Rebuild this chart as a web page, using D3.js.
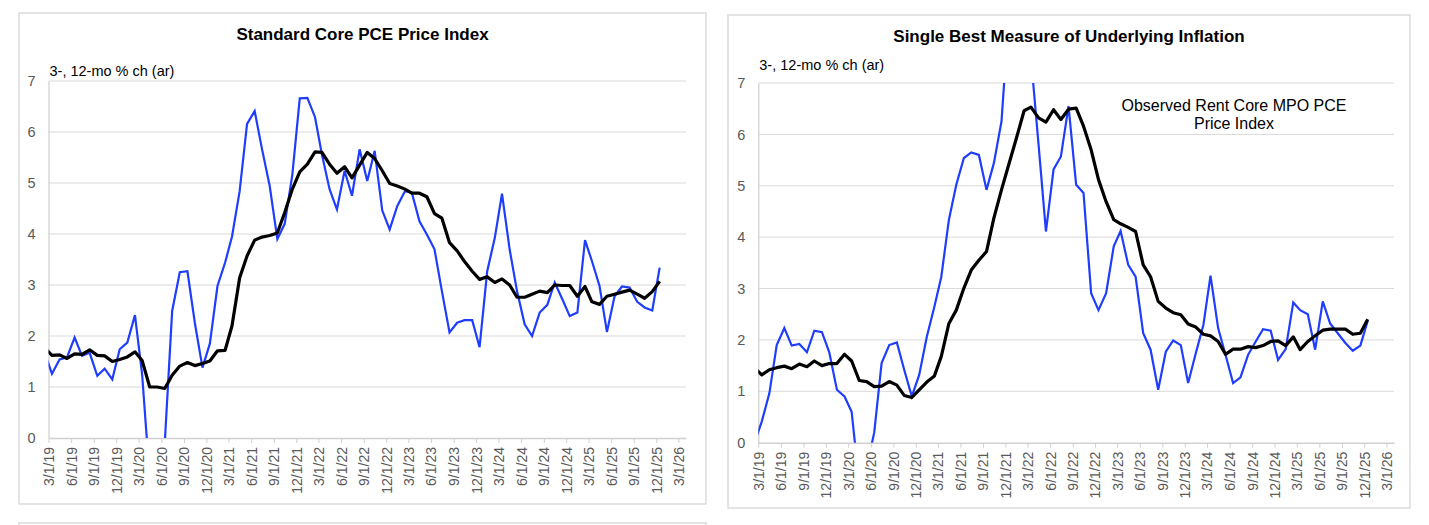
<!DOCTYPE html>
<html>
  <head>
    <meta charset="utf-8">
    <title>core pce charts</title>
    <style>
      body { margin: 0; background: #fff; }
      text { font-family: "Liberation Sans", Arial, sans-serif; }
    </style>
  </head>
  <body>
    <div class="charts"></div>
    <script src="https://d3js.org/d3.v7.min.js"></script>
    <script>
        // monthly observations, Feb 2019 .. Dec 2025 (Feb 2019 sits left of the axis and is clipped)
        var firstMonth = "2019-02", lastMonth = "2025-12";

        // Standard Core PCE Price Index
        var core3 = [1.65, 1.26, 1.54, 1.58, 1.97, 1.61, 1.67, 1.22, 1.36, 1.15, 1.74, 1.87,
            2.41, 1.25, -0.8, -1.2, -0.1, 2.49, 3.25, 3.27, 2.26, 1.38, 1.85, 2.98,
            3.44, 3.95, 4.84, 6.16, 6.41, 5.66, 4.94, 3.90, 4.20, 5.17, 6.66, 6.67,
            6.29, 5.56, 4.88, 4.48, 5.24, 4.75, 5.66, 5.04, 5.63, 4.46, 4.09, 4.55,
            4.84, 4.81, 4.25, 3.99, 3.70, 2.88, 2.07, 2.26, 2.31, 2.31, 1.78, 3.27,
            3.93, 4.79, 3.70, 2.88, 2.23, 2.00, 2.46, 2.61, 3.05, 2.72, 2.39, 2.46,
            3.88, 3.47, 2.98, 2.08, 2.78, 2.97, 2.95, 2.67, 2.56, 2.50, 3.34];
        var core12 = [1.76, 1.62, 1.63, 1.56, 1.65, 1.64, 1.73, 1.62, 1.61, 1.50, 1.54, 1.59,
            1.69, 1.52, 1.00, 1.00, 0.97, 1.23, 1.41, 1.48, 1.42, 1.46, 1.51, 1.71,
            1.72, 2.20, 3.14, 3.57, 3.88, 3.94, 3.97, 4.02, 4.42, 4.88, 5.22, 5.37,
            5.61, 5.60, 5.37, 5.19, 5.32, 5.10, 5.35, 5.60, 5.48, 5.24, 4.99, 4.94,
            4.88, 4.80, 4.80, 4.73, 4.40, 4.31, 3.83, 3.67, 3.46, 3.27, 3.11, 3.16,
            3.05, 3.12, 3.00, 2.76, 2.76, 2.82, 2.88, 2.85, 3.00, 2.99, 2.99, 2.78,
            2.97, 2.67, 2.62, 2.78, 2.82, 2.86, 2.90, 2.82, 2.74, 2.87, 3.07];

        // Observed Rent Core MPO PCE Price Index
        var rent3 = [0.02, 0.41, 0.96, 1.90, 2.23, 1.89, 1.92, 1.76, 2.18, 2.15, 1.76, 1.03,
            0.90, 0.60, -0.8, -0.5, 0.20, 1.55, 1.90, 1.95, 1.42, 0.90, 1.32, 2.06,
            2.65, 3.23, 4.34, 5.02, 5.54, 5.65, 5.60, 4.92, 5.44, 6.25, 8.33, 9.00,
            8.50, 7.50, 5.80, 4.11, 5.32, 5.57, 6.55, 5.02, 4.86, 2.91, 2.58, 2.91,
            3.82, 4.12, 3.46, 3.23, 2.13, 1.81, 1.03, 1.77, 1.99, 1.90, 1.16, 1.74,
            2.29, 3.25, 2.23, 1.71, 1.16, 1.27, 1.71, 1.97, 2.21, 2.18, 1.61, 1.82,
            2.73, 2.58, 2.50, 1.81, 2.75, 2.32, 2.13, 1.94, 1.79, 1.89, 2.37];
        var rent12 = [1.45, 1.32, 1.42, 1.46, 1.49, 1.44, 1.53, 1.48, 1.59, 1.50, 1.54, 1.54,
            1.72, 1.59, 1.21, 1.19, 1.09, 1.10, 1.19, 1.12, 0.92, 0.88, 1.03, 1.18,
            1.30, 1.68, 2.32, 2.58, 3.01, 3.36, 3.55, 3.72, 4.37, 4.92, 5.42, 5.93,
            6.46, 6.53, 6.32, 6.24, 6.48, 6.29, 6.49, 6.51, 6.16, 5.70, 5.12, 4.69,
            4.34, 4.26, 4.19, 4.11, 3.46, 3.23, 2.75, 2.62, 2.53, 2.49, 2.31, 2.25,
            2.11, 2.08, 1.97, 1.72, 1.82, 1.82, 1.87, 1.85, 1.89, 1.97, 1.98, 1.89,
            2.06, 1.81, 1.97, 2.08, 2.19, 2.21, 2.21, 2.21, 2.11, 2.13, 2.40];

        var yTicks = [0, 1, 2, 3, 4, 5, 6, 7];
        var xTickLabels = ["3/1/19", "6/1/19", "9/1/19", "12/1/19", "3/1/20", "6/1/20", "9/1/20", "12/1/20",
            "3/1/21", "6/1/21", "9/1/21", "12/1/21", "3/1/22", "6/1/22", "9/1/22", "12/1/22",
            "3/1/23", "6/1/23", "9/1/23", "12/1/23", "3/1/24", "6/1/24", "9/1/24", "12/1/24",
            "3/1/25", "6/1/25", "9/1/25", "12/1/25", "3/1/26"];
        var axisStart = "3/1/19", axisEnd = "4/1/26";

        var parseTick = d3.timeParse("%m/%d/%y");
        var parseMonth = d3.timeParse("%Y-%m");
        var months = d3.timeMonth.range(parseMonth(firstMonth), d3.timeMonth.offset(parseMonth(lastMonth), 1));
        // points are plotted mid-month
        var pointDates = months.map(function(m) { return d3.timeDay.offset(m, 14); });

        var w = 1429, h = 525;
        var svg = d3.select(".charts").append("svg")
            .attr("width", w)
            .attr("height", h);

        var panels = [
            { id: "core", title: "Standard Core PCE Price Index", s3: core3, s12: core12,
              frame: [19, 13, 687, 491], plot: [48.5, 686, 438, 81], titleY: 40, labelY: 76 },
            { id: "rent", title: "Single Best Measure of Underlying Inflation", s3: rent3, s12: rent12,
              frame: [728, 15, 682, 493], plot: [758.3, 1394, 442.7, 83], titleY: 42, labelY: 70,
              note: ["Observed Rent Core MPO PCE", "Price Index"], noteX: 1234, noteY: 111 }
        ];

        // top of the next row of charts peeking in at the bottom
        svg.append("rect")
            .attr("x", 19).attr("y", 523).attr("width", 687).attr("height", 40)
            .attr("fill", "none").attr("stroke", "#dcdcdc").attr("stroke-width", 1.5);

        panels.forEach(function(p) {
            var g = svg.append("g");

            g.append("rect")
                .attr("x", p.frame[0]).attr("y", p.frame[1])
                .attr("width", p.frame[2]).attr("height", p.frame[3])
                .attr("fill", "#fff").attr("stroke", "#dcdcdc").attr("stroke-width", 1.5);

            var x = d3.scaleTime()
                .domain([parseTick(axisStart), parseTick(axisEnd)])
                .range([p.plot[0], p.plot[1]]);
            var y = d3.scaleLinear().domain([0, 7]).range([p.plot[2], p.plot[3]]);

            // gridlines
            g.append("g").selectAll("line")
                .data(yTicks.slice(1))
                .enter().append("line")
                .attr("x1", p.plot[0]).attr("x2", p.plot[1])
                .attr("y1", function(d) { return y(d); })
                .attr("y2", function(d) { return y(d); })
                .attr("stroke", "#d9d9d9").attr("stroke-width", 1);

            // y axis
            var yAxis = g.append("g")
                .attr("transform", "translate(" + p.plot[0] + ",0)")
                .call(d3.axisLeft(y).tickValues(yTicks).tickSize(0).tickPadding(13).tickFormat(d3.format("d")));
            yAxis.select(".domain").attr("stroke", "#cfcfcf").attr("stroke-width", 1.2);
            yAxis.selectAll("text").attr("fill", "#595959").style("font-size", "14.5px")
                .style("font-family", "'Liberation Sans', Arial, sans-serif");

            // x axis
            var xAxis = g.append("g")
                .attr("transform", "translate(0," + y(0) + ")")
                .call(d3.axisBottom(x)
                    .tickValues(xTickLabels.map(parseTick))
                    .tickSize(5)
                    .tickSizeOuter(0)
                    .tickFormat(function(d, i) { return xTickLabels[i]; }));
            xAxis.select(".domain").attr("stroke", "#d0d0d0").attr("stroke-width", 1.5);
            xAxis.selectAll(".tick line").attr("stroke", "#d0d0d0");
            xAxis.selectAll("text")
                .attr("fill", "#595959")
                .style("font-size", "14px")
                .style("font-family", "'Liberation Sans', Arial, sans-serif")
                .attr("text-anchor", "end")
                .attr("transform", "rotate(-90)")
                .attr("x", -9).attr("y", 0).attr("dy", "0.35em");

            // clip the lines to the plot area
            svg.append("clipPath").attr("id", "clip-" + p.id)
                .append("rect")
                .attr("x", p.plot[0]).attr("y", p.plot[3])
                .attr("width", p.plot[1] - p.plot[0]).attr("height", p.plot[2] - p.plot[3]);

            var line = d3.line()
                .x(function(d, i) { return x(pointDates[i]); })
                .y(function(d) { return y(d); });

            var lines = g.append("g").attr("clip-path", "url(#clip-" + p.id + ")");
            lines.append("path")
                .attr("d", line(p.s3))
                .attr("fill", "none").attr("stroke", "#1f3dff").attr("stroke-width", 2.2)
                .attr("stroke-linejoin", "miter");
            lines.append("path")
                .attr("d", line(p.s12))
                .attr("fill", "none").attr("stroke", "#000").attr("stroke-width", 3.2)
                .attr("stroke-linejoin", "round");

            // titles
            g.append("text")
                .attr("x", p.frame[0] + p.frame[2] / 2).attr("y", p.titleY)
                .attr("text-anchor", "middle")
                .style("font-size", "17px").style("font-weight", "bold")
                .text(p.title);

            g.append("text")
                .attr("x", p.plot[0] + 1).attr("y", p.labelY)
                .style("font-size", "14.5px")
                .text("3-, 12-mo % ch (ar)");

            if (p.note) {
                g.append("text")
                    .attr("x", p.noteX).attr("y", p.noteY)
                    .attr("text-anchor", "middle")
                    .style("font-size", "16px")
                    .selectAll("tspan")
                    .data(p.note)
                    .enter().append("tspan")
                    .attr("x", p.noteX)
                    .attr("dy", function(d, i) { return i ? 18 : 0; })
                    .text(function(d) { return d; });
            }
        });
    </script>
  </body>
</html>
